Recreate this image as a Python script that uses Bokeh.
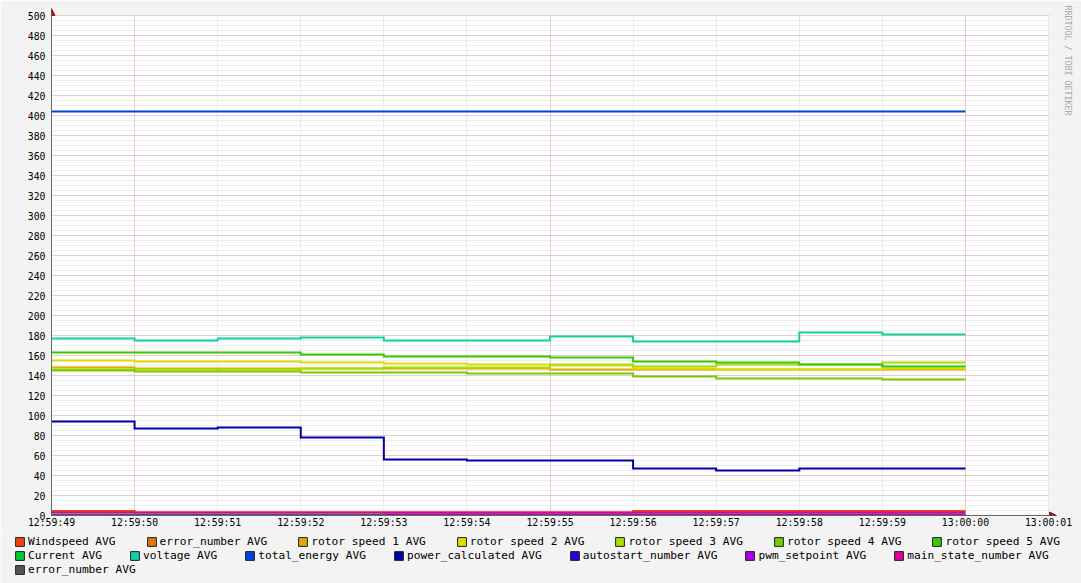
from bokeh.plotting import figure
from bokeh.layouts import column
from bokeh.models import (FixedTicker, Legend, LegendItem, Arrow, NormalHead,
                          Title, Range1d, BoxAnnotation, Grid)
from bokeh.embed import file_html
from bokeh.resources import INLINE

# ---------------- data ----------------
time_labels = ["12:59:49", "12:59:50", "12:59:51", "12:59:52", "12:59:53",
               "12:59:54", "12:59:55", "12:59:56", "12:59:57", "12:59:58",
               "12:59:59", "13:00:00", "13:00:01"]
y_max = 500
y_major_step = 20
y_minor_step = 5

# one value per 1-second step, from 12:59:49 to 13:00:00
windspeed        = [4.5, 3, 3, 3, 3, 3, 3, 4.5, 4.5, 4.5, 4.5]
error_number     = [0, 0, 0, 0, 0, 0, 0, 0, 0, 0, 0]
rotor_speed_1    = [148, 147, 147, 147, 147, 147, 146, 146, 146, 146, 146]
rotor_speed_2    = [155, 154, 154, 153, 152, 151, 150, 147, 146, 146, 147]
rotor_speed_3    = [146, 146, 146, 147, 148, 148, 151, 149, 151, 151, 153]
rotor_speed_4    = [145, 144, 144, 143, 143, 142, 142, 139, 137, 137, 136]
rotor_speed_5    = [163, 163, 163, 161, 159, 159, 158, 154, 153, 151, 149]
current          = [1, 1, 1, 1, 1, 1, 1, 1, 1, 1, 1]
voltage          = [177, 175, 177, 178, 175, 175, 179, 174, 174, 183, 181]
total_energy     = [404, 404, 404, 404, 404, 404, 404, 404, 404, 404, 404]
power_calculated = [94, 87, 88, 78, 56, 55, 55, 47, 45, 47, 47]
autostart_number = [0, 0, 0, 0, 0, 0, 0, 0, 0, 0, 0]
pwm_setpoint     = [0, 0, 0, 0, 1, 1, 1, 1, 1, 1, 1]
main_state_number = [3, 3, 3, 3, 3, 3, 3, 3, 3, 3, 3]
error_number_2   = [0, 0, 0, 0, 0, 0, 0, 0, 0, 0, 0]

series_names = ["Windspeed AVG", "error_number AVG", "rotor speed 1 AVG",
                "rotor speed 2 AVG", "rotor speed 3 AVG", "rotor speed 4 AVG",
                "rotor speed 5 AVG", "Current AVG", "voltage AVG",
                "total_energy AVG", "power_calculated AVG", "autostart_number AVG",
                "pwm_setpoint AVG", "main_state_number AVG", "error_number AVG"]
series_values = [windspeed, error_number, rotor_speed_1, rotor_speed_2,
                 rotor_speed_3, rotor_speed_4, rotor_speed_5, current, voltage,
                 total_energy, power_calculated, autostart_number, pwm_setpoint,
                 main_state_number, error_number_2]
series_colors = ["#EE4411", "#DD7711", "#DDAA00", "#DDDD00", "#AADD00",
                 "#77CC00", "#33CC00", "#00CC33", "#11D2A0", "#0044DD",
                 "#0000AA", "#3300DD", "#AA00DD", "#DD0099", "#555555"]
legend_rows = [7, 7, 1]

BG = "#F3F3F3"

# ---------------- main chart ----------------
n_ticks = len(time_labels)
x_last = n_ticks - 1
x_pad = 0.096      # room for the axis arrow heads
y_pad = 7

p = figure(width=1081, height=534, output_backend="svg", toolbar_location=None,
           x_range=Range1d(0, x_last + x_pad), y_range=Range1d(0, y_max + y_pad),
           min_border_left=51, min_border_right=23, min_border_top=8,
           min_border_bottom=19)
p.background_fill_color = BG
p.border_fill_color = BG
p.outline_line_color = None

# white canvas for the data area
p.add_layout(BoxAnnotation(left=0, right=x_last, bottom=0, top=y_max,
                           fill_color="white", fill_alpha=1, line_color=None,
                           level="image"))

# grids
major_x = [i for i, t in enumerate(time_labels) if int(t[-2:]) % 5 == 0]
y_major = list(range(0, y_max + 1, y_major_step))
y_minor = list(range(0, y_max + 1, y_minor_step))
p.xgrid.ticker = FixedTicker(ticks=major_x, minor_ticks=list(range(n_ticks)))
p.ygrid.ticker = FixedTicker(ticks=y_major, minor_ticks=y_minor)
for g in (p.xgrid, p.ygrid):
    g.grid_line_color = "#E8A8A8"
    g.grid_line_dash = "1 1"
    g.grid_line_width = 1
    g.minor_grid_line_color = "#DCDCDC"
    g.minor_grid_line_dash = "1 1"
if "cross_bounds" in Grid.properties():
    p.xgrid.cross_bounds = (0, y_max)
    p.ygrid.cross_bounds = (0, x_last)

# axes
p.xaxis.ticker = FixedTicker(ticks=list(range(n_ticks)))
p.xaxis.major_label_overrides = {i: t for i, t in enumerate(time_labels)}
p.yaxis.ticker = FixedTicker(ticks=y_major)
for ax in (p.xaxis, p.yaxis):
    ax.major_label_text_font = "DejaVu Sans Mono"
    ax.major_label_text_font_size = "9.8px"
    ax.major_label_text_color = "#000000"
    ax.major_tick_out = 0
    ax.major_tick_in = 0
    ax.minor_tick_out = 0
    ax.minor_tick_in = 0
    ax.axis_line_color = "#666666"
p.xaxis.major_label_standoff = 1
p.yaxis.major_label_standoff = 6

# lines
for name, vals, col in zip(series_names, series_values, series_colors):
    xs = list(range(len(vals) + 1))
    ys = list(vals) + [vals[-1]]
    p.step(xs, ys, mode="after", line_color=col, line_width=2, line_join="miter")

# axis arrows
head_color = "#8B1A1A"
p.add_layout(Arrow(end=NormalHead(size=7, fill_color=head_color, line_color=head_color),
                   x_start=x_last, y_start=0, x_end=x_last + x_pad, y_end=0,
                   line_color="#666666", line_width=1))
p.add_layout(Arrow(end=NormalHead(size=7, fill_color=head_color, line_color=head_color),
                   x_start=0, y_start=y_max, x_end=0, y_end=y_max + y_pad,
                   line_color="#666666", line_width=1))

# watermark
p.add_layout(Title(text="RRDTOOL / TOBI OETIKER", text_font="DejaVu Sans Mono",
                   text_font_size="8.3px", text_color="#A8A8A8",
                   text_font_style="normal", align="left", standoff=13,
                   offset=-3), "right")

# ---------------- legend strip ----------------
leg_fig = figure(width=1081, height=49, output_backend="svg", toolbar_location=None,
                 x_axis_type=None, y_axis_type=None, min_border=0,
                 x_range=Range1d(0, 1), y_range=Range1d(0, 1))
leg_fig.grid.visible = False
leg_fig.background_fill_color = BG
leg_fig.border_fill_color = BG
leg_fig.outline_line_color = None
if "frame_align" in leg_fig.properties():
    leg_fig.frame_align = False
    p.frame_align = False

nan = float("nan")
swatches = []
for col in series_colors:
    # a swatch-only renderer (no visible mark) used for the legend square
    swatches.append(leg_fig.quad(left=[nan], right=[nan], top=[nan], bottom=[nan],
                                 fill_color=col, line_color="#222222", line_width=1))

start = 0
row_h = 14
for row, (count, spacing) in enumerate(zip(legend_rows, [30, 27, 27])):
    items = [LegendItem(label=series_names[i], renderers=[swatches[i]])
             for i in range(start, start + count)]
    start += count
    leg = Legend(items=items, orientation="horizontal",
                 location=(14, 49 - row_h * (row + 1)),
                 spacing=spacing, padding=0, margin=0, glyph_width=11,
                 glyph_height=11, label_height=row_h, label_standoff=3,
                 label_text_font="DejaVu Sans Mono", label_text_font_size="11.2px",
                 label_text_color="#000000", background_fill_alpha=0,
                 border_line_alpha=0)
    leg_fig.add_layout(leg)

layout = column(p, leg_fig, spacing=0)
open("out.html", "w").write(file_html(layout, INLINE))
